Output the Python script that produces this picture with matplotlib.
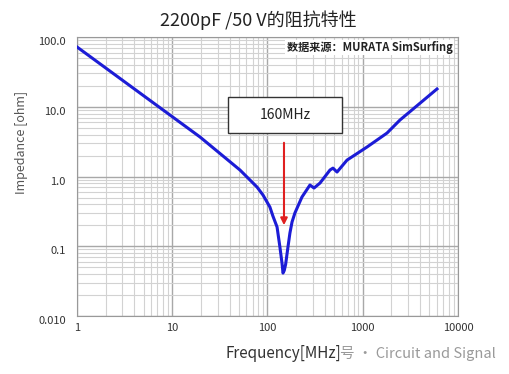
import matplotlib.pyplot as plt
from matplotlib.patches import Rectangle

plt.rcParams['font.family'] = ['Noto Sans CJK SC', 'DejaVu Sans']

# odczyt krzywej z wykresu (MHz, ohm)
freq = [1, 19.6, 51.4, 62.4, 77.6, 89.7, 106, 114, 126, 135, 142, 145.5, 150, 155,
        164, 172, 181, 194, 230, 279, 308, 356, 453, 487, 537, 684, 1109, 1798, 2460, 6020]
imped = [72, 3.68, 1.24, 0.952, 0.707, 0.543, 0.365, 0.271, 0.189, 0.0975, 0.0575,
         0.0413, 0.045, 0.055, 0.0975, 0.155, 0.223, 0.30, 0.508, 0.755, 0.684, 0.807,
         1.24, 1.32, 1.16, 1.72, 2.65, 4.2, 6.46, 18]

xticks = [1, 10, 100, 1000, 10000]
xtick_labels = ['1', '10', '100', '1000', '10000']
yticks = [0.01, 0.1, 1, 10, 100]
ytick_labels = ['0.010', '0.1', '1.0', '10.0', '100.0']

fig = plt.figure(figsize=(5.1, 3.74), dpi=100)
ax = fig.add_axes([0.151, 0.155, 0.747, 0.746])

ax.plot(freq, imped, color='#1c1cd6', linewidth=2.2, zorder=3)
ax.set_xscale('log')
ax.set_yscale('log')
ax.set_xlim(1, 10000)
ax.set_ylim(0.01, 100)

ax.set_xticks(xticks)
ax.set_xticklabels(xtick_labels)
ax.set_yticks(yticks)
ax.set_yticklabels(ytick_labels)
ax.tick_params(which='both', length=0, labelsize=8, colors='#333333')
ax.tick_params(axis='y', pad=8)
ax.tick_params(axis='x', pad=5)
for lab in ax.get_yticklabels():
    lab.set_verticalalignment('top')

ax.grid(which='minor', color='#d2d2d2', linewidth=0.8)
ax.grid(which='major', color='#a8a8a8', linewidth=1.0)
for s in ax.spines.values():
    s.set_color('#999999')

# strzalka i ramka
ax.annotate('', xy=(149, 0.183), xytext=(149, 3.34),
            arrowprops=dict(arrowstyle='-|>', color='#e02020', lw=1.5, mutation_scale=10),
            zorder=4)
ax.add_patch(Rectangle((38.5, 4.2), 606 - 38.5, 13.8 - 4.2, facecolor='white',
                       edgecolor='#333333', linewidth=1.0, zorder=4))
ax.text(153, 7.6, '160MHz', ha='center', va='center', fontsize=10, color='#222222', zorder=5)

ax.text(0.985, 0.962, '数据来源：MURATA SimSurfing', transform=ax.transAxes,
        ha='right', va='center', fontsize=8, fontweight='bold', color='#222222',
        bbox=dict(facecolor='white', edgecolor='none', pad=1), zorder=5)

fig.text(0.506, 0.945, '2200pF /50 V的阻抗特性', ha='center', va='center',
         fontsize=13, color='#222222')
fig.text(0.043, 0.62, 'Impedance [ohm]', rotation=90, ha='center', va='center',
         fontsize=9, color='#555555')
fig.text(0.555, 0.055, 'Frequency[MHz]', ha='center', va='center',
         fontsize=11, color='#333333')
fig.text(0.667, 0.055, '号 · Circuit and Signal', ha='left', va='center',
         fontsize=10.5, color='#9a9a9a')

fig.savefig('out.png', dpi=100)
